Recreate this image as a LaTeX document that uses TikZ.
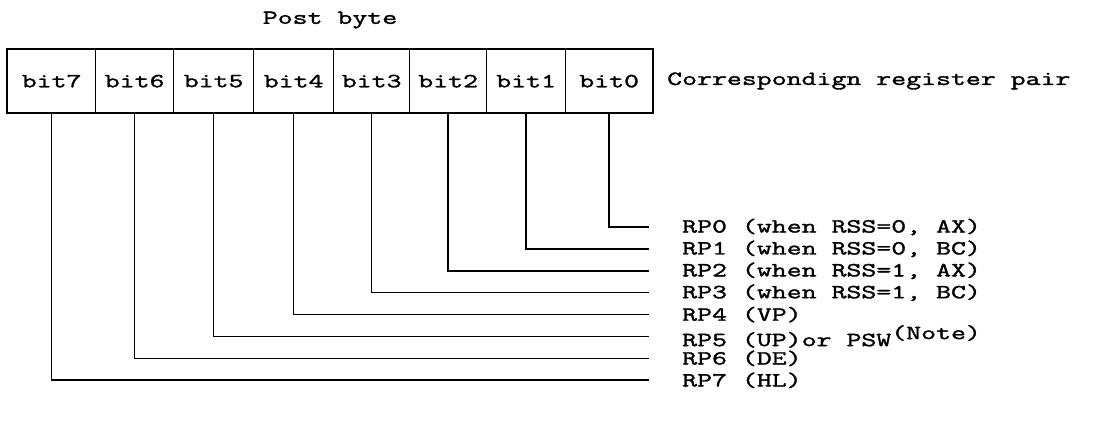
\documentclass[tikz,border=0pt]{standalone}
\usepackage{fontspec}
\setmonofont[FakeStretch=1.45,FakeBold=1.6]{Latin Modern Mono}
\begin{document}
\begin{tikzpicture}[x=1pt,y=-1pt,
  lbl/.style={font=\ttfamily\fontsize{20}{22}\selectfont, inner sep=0pt},
  cell/.style={lbl, draw, line width=1.3pt, minimum height=63pt, anchor=north west},
  frame/.style={line width=2.2pt},
  wire/.style={line width=1.6pt},
]
\useasboundingbox (0,0) rectangle (1096,443);

% title
\node[lbl] (title) at (330,20) {Post byte};

% the eight bit cells of the post byte
\node[cell, minimum width=88pt] (b7) at (7,49)   {bit7};
\node[cell, minimum width=78pt] (b6) at (95,49)  {bit6};
\node[cell, minimum width=80pt] (b5) at (173,49) {bit5};
\node[cell, minimum width=80pt] (b4) at (253,49) {bit4};
\node[cell, minimum width=76pt] (b3) at (333,49) {bit3};
\node[cell, minimum width=77pt] (b2) at (409,49) {bit2};
\node[cell, minimum width=79pt] (b1) at (486,49) {bit1};
\node[cell, minimum width=87pt] (b0) at (565,49) {bit0};
\draw[frame] (b7.north west) rectangle (b0.south east);

\node[lbl, anchor=west] (head) at (667,81) {Correspondign register pair};

% register pair labels
\node[lbl, anchor=west] (r0) at (682,227)   {RP0 (when RSS=0, AX)};
\node[lbl, anchor=west] (r1) at (682,248.9) {RP1 (when RSS=0, BC)};
\node[lbl, anchor=west] (r2) at (682,270.8) {RP2 (when RSS=1, AX)};
\node[lbl, anchor=west] (r3) at (682,292.7) {RP3 (when RSS=1, BC)};
\node[lbl, anchor=west] (r4) at (682,314.6) {RP4 (VP)};
\node[lbl, anchor=west] (r5) at (682,336.5) {RP5 (UP)or PSW\raisebox{7pt}{(Note)}};
\node[lbl, anchor=west] (r6) at (682,358.4) {RP6 (DE)};
\node[lbl, anchor=west] (r7) at (682,380.3) {RP7 (HL)};

% connectors from each bit to its register pair
\foreach \i in {0,...,7}
  \draw[wire] (b\i.south) |- ([xshift=-33pt]r\i.west);
\end{tikzpicture}
\end{document}
